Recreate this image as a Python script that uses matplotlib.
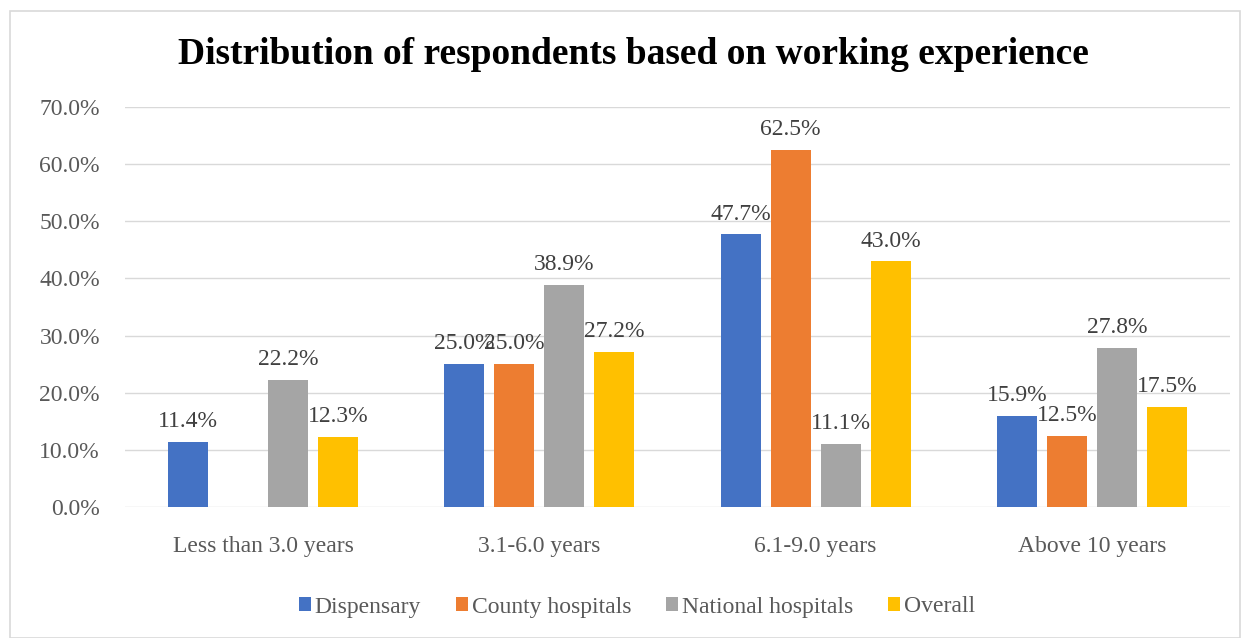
import matplotlib.pyplot as plt
import numpy as np
from matplotlib.patches import Rectangle

categories = ['Less than 3.0 years', '3.1-6.0 years', '6.1-9.0 years', 'Above 10 years']
series = ['Dispensary', 'County hospitals', 'National hospitals', 'Overall']
dispensary = [11.4, 25.0, 47.7, 15.9]
county = [np.nan, 25.0, 62.5, 12.5]
national = [22.2, 38.9, 11.1, 27.8]
overall = [12.3, 27.2, 43.0, 17.5]
colors = ['#4472C4', '#ED7D31', '#A5A5A5', '#FFC000']

plt.rcParams['font.family'] = ['Liberation Serif', 'DejaVu Serif']

fig = plt.figure(figsize=(12.47, 6.38), dpi=100)
fig.patches.append(Rectangle((10/1247, 0.0), 1230/1247, 627/638, transform=fig.transFigure,
                             fill=False, edgecolor='#d9d9d9', linewidth=1.2))
ax = fig.add_axes([125/1247, 131/638, 1105/1247, 400/638])

x = np.arange(len(categories))
pitch = 0.181
width = 0.145
for i, (name, vals) in enumerate(zip(series, [dispensary, county, national, overall])):
    pos = x + (i - 1.5) * pitch
    ax.bar(pos, vals, width, color=colors[i], label=name, zorder=3)
    for p, v in zip(pos, vals):
        if np.isnan(v):
            continue
        ax.annotate(f'{v:.1f}%', (p, v), xytext=(0, 7), textcoords='offset points',
                    ha='center', va='bottom', fontsize=17, color='#404040')

ax.set_xlim(-0.5, 3.5)
ax.set_ylim(0, 70)
ax.set_yticks(np.arange(0, 71, 10))
ax.set_yticklabels([f'{t:.1f}%' for t in np.arange(0, 71, 10)])
ax.set_xticks(x)
ax.set_xticklabels(categories)
ax.tick_params(length=0, labelsize=17, labelcolor='#595959')
ax.tick_params(axis='y', pad=18)
ax.tick_params(axis='x', pad=21)
ax.grid(axis='y', color='#d9d9d9', linewidth=1, zorder=0)
for s in ax.spines.values():
    s.set_visible(False)

fig.text(633/1247, 1 - 55/638, 'Distribution of respondents based on working experience',
         ha='center', va='center', fontsize=27, fontweight='bold')

fig.legend(loc='center', bbox_to_anchor=(637/1247, 1 - 607/638), ncol=4, frameon=False,
           fontsize=17, handlelength=0.5, handleheight=0.5, handletextpad=0.15,
           columnspacing=1.5, labelcolor='#595959')

fig.savefig('out.png', dpi=100)
